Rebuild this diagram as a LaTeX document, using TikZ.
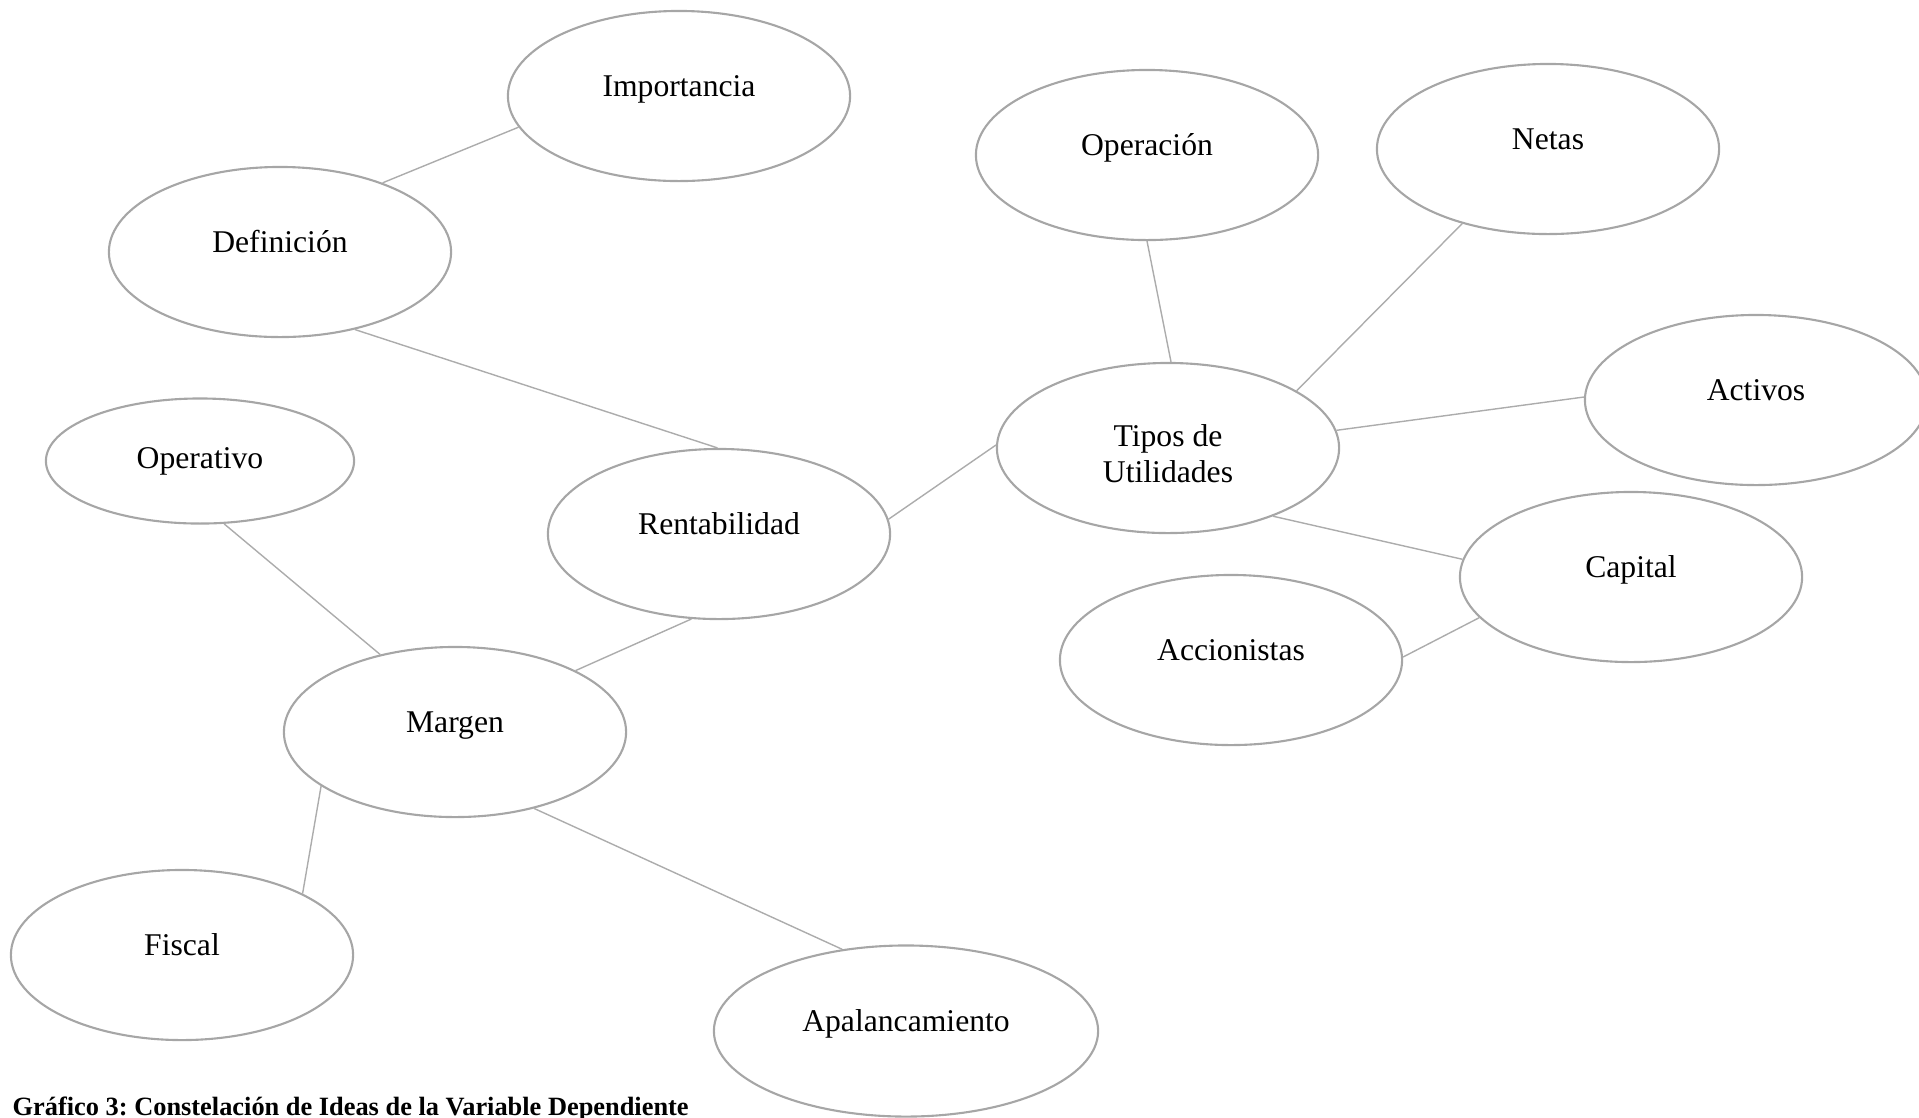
\documentclass[tikz,border=0pt]{standalone}
\usepackage{fontspec}
\setmainfont{Liberation Serif}
\usetikzlibrary{shapes.geometric}
\definecolor{ideaEdge}{RGB}{166,166,166}
\definecolor{ideaLink}{RGB}{172,172,172}

\begin{document}
\begin{tikzpicture}[x=0.01cm, y=-0.01cm,
  every node/.style={font=\fontsize{9}{10.3}\selectfont},
  idea/.style={ellipse, draw=ideaEdge, line width=0.6pt, inner sep=0pt,
    minimum width=3.42cm, minimum height=1.70cm, text height=6.2pt, text depth=6.2pt},
  link/.style={draw=ideaLink, line width=0.4pt}]
  \useasboundingbox (0,0) rectangle (1919,1117);
  % ideas
  \foreach \name/\pos/\txt in {imp/{679,96}/Importancia, def/{280,252}/Definición,
      rent/{719,534}/Rentabilidad, mar/{455,732}/Margen, fis/{182,955}/Fiscal,
      ope/{1147,155}/Operación, net/{1548,149}/Netas, act/{1756,400}/Activos,
      cap/{1631,577}/Capital, acc/{1231,660}/Accionistas}
    \node[idea] (\name) at (\pos) {\txt};
  \node[idea, minimum width=3.08cm, minimum height=1.25cm, text height=, text depth=] (opv) at (200,461) {Operativo};
  \node[idea, minimum width=3.84cm, minimum height=1.71cm] (apa) at (906,1031) {Apalancamiento};
  \node[idea, align=center, text height=19.6pt, text depth=0pt] (tip) at (1168,448) {Tipos de\\Utilidades};
  % links
  \foreach \a/\b in {imp.191/def.34, def.314/rent.91, rent.5/tip.179, ope.270/tip.88,
      net.221/tip.24, act.179/tip.6, tip.327/cap.174, cap.195/acc.1,
      opv.291/mar.134, rent.252/mar.27, mar.202/fis.27, mar.316/apa.128}
    \draw[link] (\a) -- (\b);
  \node[anchor=base west, inner sep=0pt, font=\fontsize{7.5}{9}\selectfont\bfseries\frenchspacing] (caption) at (12,1115)
    {Gráfico 3: Constelación de Ideas de la Variable Dependiente};
\end{tikzpicture}
\end{document}
